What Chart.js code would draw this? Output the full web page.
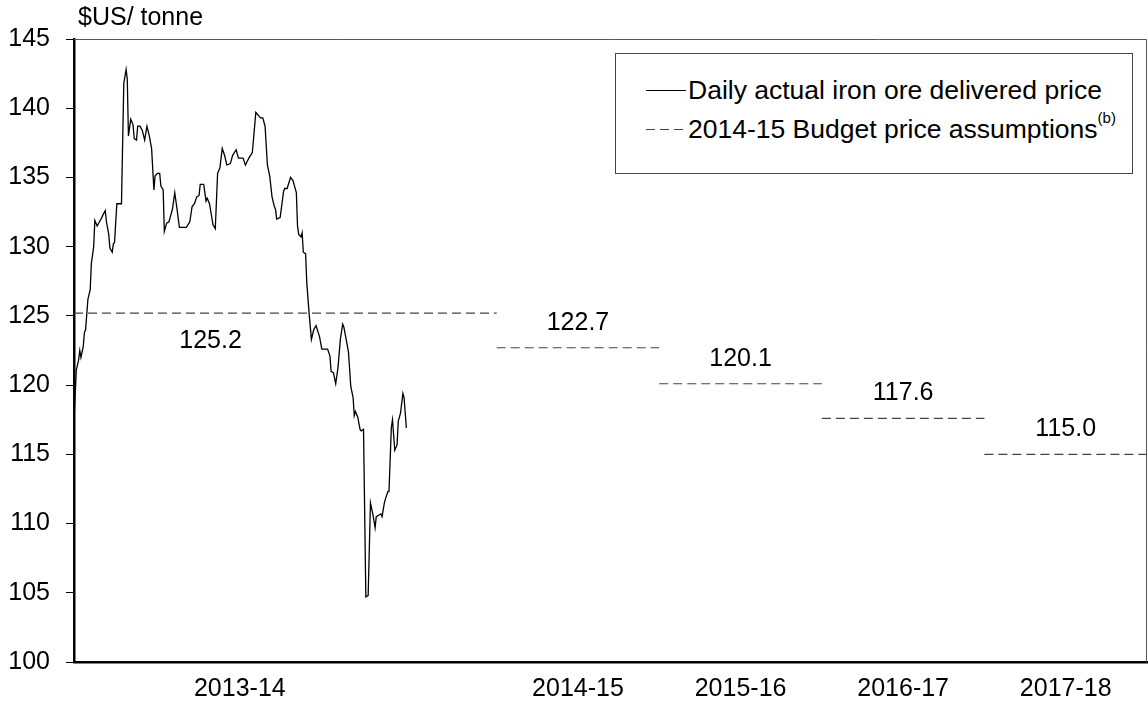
<!DOCTYPE html>
<html><head><meta charset="utf-8">
<script src="https://cdn.jsdelivr.net/npm/chart.js@4.4.1/dist/chart.umd.min.js"></script>
<style>
html,body{margin:0;padding:0;background:#fff;}
#wrap{position:relative;width:1148px;height:711px;font-family:"Liberation Sans",Arial,sans-serif;color:#000;}
canvas{position:absolute;left:0;top:0;}
#unit{position:absolute;left:78px;top:1px;font-size:25px;line-height:30px;white-space:nowrap;}
#legend{position:absolute;left:615px;top:53px;width:518px;height:121px;border:1px solid #444;box-sizing:border-box;background:#fff;}
.row{position:absolute;left:0;height:30px;line-height:30px;font-size:26.5px;white-space:nowrap;}
.sample{position:absolute;left:30px;width:40px;height:1px;}
.solid{background:#000;}
.dash{background:repeating-linear-gradient(to right,#444 0 9px,transparent 9px 14px);}
.txt{position:absolute;left:72px;top:0;}
sup{font-size:15px;position:relative;top:-4px;vertical-align:top;line-height:15px;}
</style>
</head><body>
<div id="wrap">
<canvas id="c" width="1148" height="711"></canvas>
<div id="unit">$US/ tonne</div>
<div id="legend">
  <div class="row" style="top:21px;width:510px;"><div class="sample solid" style="top:15px;"></div><span class="txt">Daily actual iron ore delivered price</span></div>
  <div class="row" style="top:60px;width:510px;"><div class="sample dash" style="top:15px;"></div><span class="txt">2014-15 Budget price assumptions<sup>(b)</sup></span></div>
</div>
</div>
<script>
// ---- data ----
const fiscalYears = ['2013-14','2014-15','2015-16','2016-17','2017-18'];
const budgetPrices = [125.2, 122.7, 120.1, 117.6, 115.0];
// days since 1 July 2013 and daily delivered price (US$/t)
const dailyDay = [0,2,4,5,6,8,9,10,12,14,15,17,18,20,22,24,25,27,28,30,31,33,34,35,37,41,43,45,46,47,49,51,52,54,55,57,59,61,63,65,67,69,70,72,74,75,77,78,80,82,84,85,87,89,91,97,100,102,104,106,108,109,112,114,115,117,120,122,124,126,128,130,132,135,137,140,142,146,148,151,154,157,159,161,163,165,167,169,171,173,174,175,178,181,182,184,187,189,192,193,194,196,197,198,200,201,203,205,207,209,212,214,219,221,222,224,226,228,230,232,233,235,237,239,241,242,243,245,247,248,250,252,254,256,258,260,261,263,265,266,268,269,271,272,274,275,277,279,280,282,284,285,287];
const dailyPrice = [117.5,121.1,121.8,122.5,122.0,122.8,123.8,124.0,126.2,126.9,128.8,130.0,131.9,131.5,131.8,132.1,132.3,132.6,131.8,130.9,129.9,129.6,130.2,130.3,133.1,133.1,141.8,142.8,142.1,138.0,139.2,138.8,137.8,137.7,138.7,138.7,138.4,137.7,138.7,138.0,137.1,134.1,135.1,135.3,135.3,134.4,134.1,131.1,131.7,131.8,132.4,132.7,133.9,132.7,131.4,131.4,131.8,132.9,133.1,133.6,133.7,134.5,134.5,133.3,133.5,133.1,131.6,131.3,135.3,135.7,137.1,136.6,135.9,136.0,136.6,137.0,136.4,136.4,135.9,136.4,136.8,139.7,139.5,139.3,139.3,138.7,135.9,135.1,133.6,132.9,132.7,132.0,132.1,134.0,134.2,134.2,135.0,134.8,133.9,131.5,130.9,130.7,131.0,129.6,129.5,127.4,125.2,123.3,124.0,124.3,123.5,122.6,122.6,122.1,121.0,120.9,120.1,121.3,123.3,124.4,124.2,123.3,122.4,119.9,119.1,117.8,118.1,117.7,116.8,116.7,116.8,104.7,104.8,111.5,110.7,109.7,110.5,110.6,110.7,110.5,111.5,111.8,112.3,112.3,116.9,117.5,115.3,115.7,117.4,118.0,119.4,119.1,116.9];
const yTickValues = [100,105,110,115,120,125,130,135,140,145];

// ---- layout constants ----
const YEAR0_WIDTH = 2.6;   // the daily 2013-14 panel is wider than the later years
const segStart = i => i === 0 ? 0 : YEAR0_WIDTH + i - 1;
const segEnd = i => YEAR0_WIDTH + i;
const xLabelPos = fiscalYears.map((_, i) => i === 0 ? 1.02 : segStart(i) + 0.5);
const valueLabelPos = budgetPrices.map((_, i) => i === 0 ? 0.84 : segStart(i) + 0.5);

const FONT = '"Liberation Sans", Arial, sans-serif';
Chart.defaults.font.family = FONT;
Chart.defaults.color = '#000';

const dailyData = dailyDay.map((d, i) => ({x: d / 365 * YEAR0_WIDTH, y: dailyPrice[i]}));
const budgetData = [];
budgetPrices.forEach((p, i) => {
  budgetData.push({x: segStart(i), y: p}, {x: segEnd(i), y: p}, {x: segEnd(i), y: null});
});

const overlay = {
  id: 'overlay',
  afterDatasetsDraw(chart) {
    const {ctx, chartArea: a, scales: {x, y}} = chart;
    ctx.save();
    ctx.strokeStyle = '#555';
    ctx.lineWidth = 1;
    ctx.beginPath();
    ctx.moveTo(a.left, Math.round(a.top) + 0.5);
    ctx.lineTo(Math.round(a.right) - 0.5, Math.round(a.top) + 0.5);
    ctx.lineTo(Math.round(a.right) - 0.5, a.bottom);
    ctx.stroke();
    ctx.font = '25px ' + FONT;
    ctx.fillStyle = '#000';
    ctx.textAlign = 'center';
    ctx.textBaseline = 'middle';
    budgetPrices.forEach((p, i) => {
      const dy = i === 0 ? 28 : -25;
      ctx.fillText(p.toFixed(1), x.getPixelForValue(valueLabelPos[i]), y.getPixelForValue(p) + dy);
    });
    ctx.restore();
  }
};

new Chart(document.getElementById('c'), {
  type: 'line',
  data: {
    datasets: [
      {label: 'Daily actual iron ore delivered price', data: dailyData, borderColor: '#000', borderWidth: 1.3, pointRadius: 0, tension: 0, fill: false},
      {label: '2014-15 Budget price assumptions', data: budgetData, borderColor: '#444', borderWidth: 1.2, borderDash: [9, 5], pointRadius: 0, tension: 0, spanGaps: false, fill: false}
    ]
  },
  options: {
    responsive: false,
    animation: false,
    layout: {padding: {top: 39, right: 1, left: 0, bottom: 0}},
    plugins: {legend: {display: false}, tooltip: {enabled: false}},
    scales: {
      x: {
        type: 'linear', min: 0, max: segEnd(fiscalYears.length - 1),
        grid: {display: true, drawOnChartArea: false, drawTicks: false},
        border: {display: true, color: '#000', width: 2.5},
        afterBuildTicks: s => { s.ticks = xLabelPos.map(v => ({value: v})); },
        afterFit: s => { s.height = 49; },
        ticks: {autoSkip: false, maxRotation: 0, padding: 12, font: {size: 25}, color: '#000',
          callback: (v, i) => fiscalYears[i]}
      },
      y: {
        type: 'linear', min: 100, max: 145,
        grid: {display: true, drawOnChartArea: false, drawTicks: true, tickLength: 8, tickColor: '#000', tickWidth: 1},
        border: {display: true, color: '#000', width: 2.5},
        afterBuildTicks: s => { s.ticks = yTickValues.map(v => ({value: v})); },
        afterFit: s => { s.width = 74; },
        ticks: {padding: 16, font: {size: 25}, color: '#000', callback: v => String(v)}
      }
    }
  },
  plugins: [overlay]
});
</script>
</body></html>
